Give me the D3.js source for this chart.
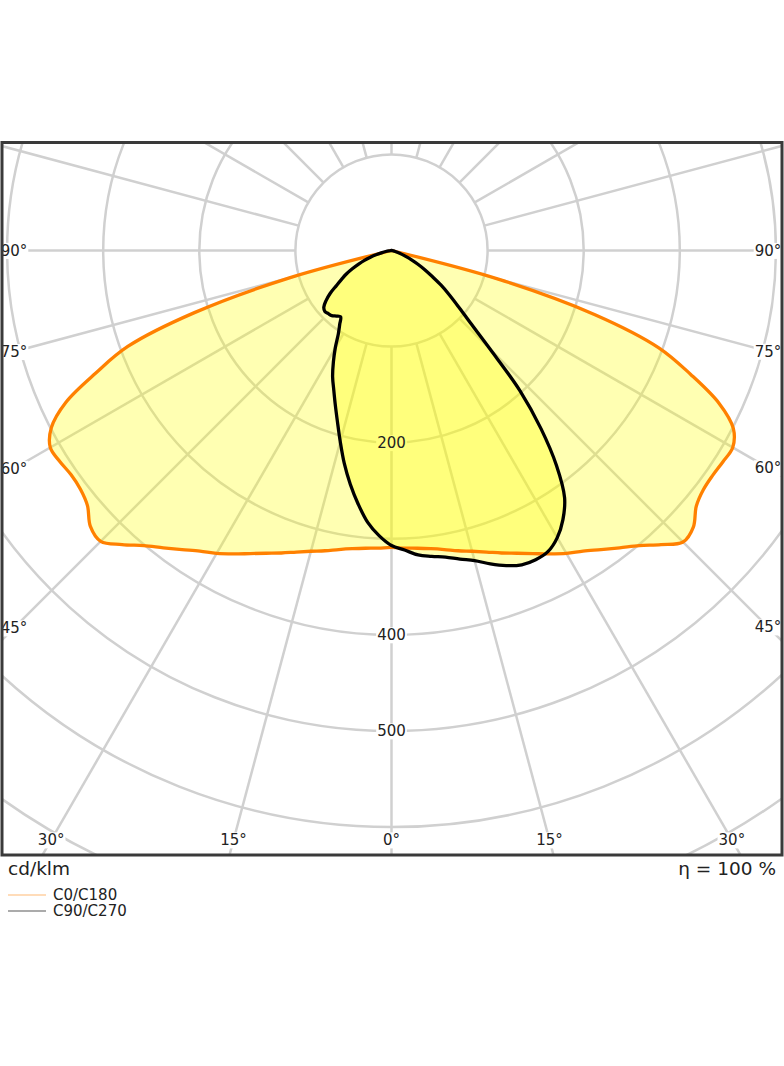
<!DOCTYPE html>
<html>
<head>
<meta charset="utf-8">
<script src="https://cdn.jsdelivr.net/npm/d3@7"></script>
<style>
  body { margin: 0; background: #fff; }
  svg { display: block; font-family: "DejaVu Sans", sans-serif; }
</style>
</head>
<body>
<div id="chart"></div>
<script>

// ---- DATA ----
// gamma angles (0 = straight down, 90 = horizontal), cd/klm
let gammas = [0, 2.5, 5, 7.5, 10, 12.5, 15, 17.5, 20, 22.5, 25, 27.5, 30, 32.5, 35, 37.5, 40, 42.5,
              45, 47.5, 50, 52.5, 55, 57.5, 60, 62.5, 65, 67.5, 70, 72.5, 75, 77.5, 80, 82.5, 85, 87.5, 90];

let c0 = [309, 310, 311, 313, 316, 320, 324, 329, 335, 341, 348, 356, 364, 371, 380, 390, 401, 415,
          429, 426, 414, 409, 408, 409, 410, 401, 376, 337, 296, 222, 115, 0, 0, 0, 0, 0, 0];

let c180 = [309, 310, 311, 313, 316, 320, 324, 329, 335, 341, 348, 356, 364, 371, 380, 390, 401, 415,
            428, 425, 413, 408, 407, 409, 410, 399, 374, 333, 292, 215, 110, 0, 0, 0, 0, 0, 0];

let c90 = [307, 312, 318, 321, 324, 329, 334, 342, 349, 354, 355, 353, 345, 332, 314, 282, 242, 198,
           145, 111, 91, 76, 63, 50, 40, 31, 23, 16, 11, 7, 4, 2, 1, 0, 0, 0, 0];

let c270 = [307, 297, 284, 266, 247, 227, 206, 187, 171, 157, 145, 131, 117, 103, 94, 87, 89, 92,
            93, 94, 92, 86, 78, 68, 60, 53, 45, 37, 30, 23, 16, 10, 6, 3, 1, 0, 0];

let ringValues = [100, 200, 300, 400, 500, 600, 700, 800];
let ringLabels = [200, 400, 500];
let spokeAngles = d3.range(0, 360, 15);
let angleLabels = [0, 15, 30, 45, 60, 75, 90];

let unitLabel = "cd/klm";
let etaLabel = "η = 100 %";
let legendNames = ["C0/C180", "C90/C270"];
let legendColors = ["#ff8000", "#222222"];

// ---- CHART AREA ----
let W = 784, H = 1066;
let frame = {left: 2, top: 143, right: 782, bottom: 855};
let cx = 391.5, cy = 250.5;

let svg = d3.select("#chart").append("svg")
    .attr("width", W)
    .attr("height", H);

svg.append("defs").append("clipPath")
    .attr("id", "frameClip")
    .append("rect")
    .attr("x", frame.left)
    .attr("y", frame.top)
    .attr("width", frame.right - frame.left)
    .attr("height", frame.bottom - frame.top);

let r = d3.scaleLinear().domain([0, 100]).range([0, 96.1]);

let plot = svg.append("g")
    .attr("clip-path", "url(#frameClip)");

let g = plot.append("g")
    .attr("transform", "translate(" + cx + "," + cy + ")");

// ---- GRID ----
g.selectAll(".ring")
    .data(ringValues)
    .enter()
    .append("circle")
    .attr("class", "ring")
    .attr("r", d => r(d))
    .attr("fill", "none")
    .attr("stroke", "#d0d0d0")
    .attr("stroke-width", 2.5);

g.selectAll(".spoke")
    .data(spokeAngles)
    .enter()
    .append("line")
    .attr("class", "spoke")
    .attr("x1", d => r(100) * Math.sin(d * Math.PI / 180))
    .attr("y1", d => r(100) * Math.cos(d * Math.PI / 180))
    .attr("x2", d => r(1000) * Math.sin(d * Math.PI / 180))
    .attr("y2", d => r(1000) * Math.cos(d * Math.PI / 180))
    .attr("stroke", "#d0d0d0")
    .attr("stroke-width", 2.5);

// ---- LABEL POSITIONS ----
let inset = {left: 14, right: 768, bottom: 840};
let labels = [];
angleLabels.forEach(a => {
    let rad = a * Math.PI / 180;
    [-1, 1].forEach(side => {
        if (a === 0 && side === 1) return;
        let tSide = Math.sin(rad) > 0 ? (side < 0 ? cx - inset.left : inset.right - cx) / Math.sin(rad) : Infinity;
        let tBottom = (inset.bottom - cy) / Math.cos(rad);
        let t = Math.min(tSide, tBottom);
        labels.push({text: a + "°", x: cx + side * t * Math.sin(rad), y: cy + t * Math.cos(rad)});
    });
});
ringLabels.forEach(v => {
    labels.push({text: String(v), x: cx, y: cy + r(v)});
});

let labelSize = 15;
// label backgrounds sit under the fills, the texts on top of everything
let bgLayer = plot.append("g");
let fillLayer = plot.append("g").attr("transform", "translate(" + cx + "," + cy + ")");
let textLayer = svg.append("g");

let texts = textLayer.selectAll("text")
    .data(labels)
    .enter()
    .append("text")
    .attr("x", d => d.x)
    .attr("y", d => d.y)
    .attr("text-anchor", "middle")
    .attr("dy", "0.36em")
    .attr("font-size", labelSize)
    .attr("fill", "#222")
    .text(d => d.text);

texts.each(function(d) {
    let b = this.getBBox();
    bgLayer.append("rect")
        .attr("x", b.x - 1)
        .attr("y", b.y + 1)
        .attr("width", b.width + 2)
        .attr("height", b.height - 2)
        .attr("fill", "#fff");
});

// ---- CURVES ----
function buildPoints(rightVals, leftVals) {
    let pts = [];
    for (let i = gammas.length - 1; i >= 0; i--) {
        pts.push([Math.PI - gammas[i] * Math.PI / 180, r(rightVals[i])]);
    }
    for (let i = 1; i < gammas.length; i++) {
        pts.push([Math.PI + gammas[i] * Math.PI / 180, r(leftVals[i])]);
    }
    return pts;
}

let radial = d3.lineRadial()
    .angle(d => d[0])
    .radius(d => d[1])
    .curve(d3.curveCatmullRom.alpha(0.5));

let series = [
    {pts: buildPoints(c0, c180), stroke: "#ff8000"},
    {pts: buildPoints(c90, c270), stroke: "#000"}
];

series.forEach(s => {
    fillLayer.append("path")
        .attr("d", radial(s.pts) + "Z")
        .attr("fill", "rgba(255,255,0,0.3)")
        .attr("stroke", "none");
});

series.forEach(s => {
    fillLayer.append("path")
        .attr("d", radial(s.pts) + "Z")
        .attr("fill", "none")
        .attr("stroke", s.stroke)
        .attr("stroke-width", 3.3)
        .attr("stroke-linejoin", "round");
});

// ---- FRAME ----
svg.append("rect")
    .attr("x", frame.left)
    .attr("y", frame.top - 0.5)
    .attr("width", frame.right - frame.left)
    .attr("height", frame.bottom - frame.top + 0.5)
    .attr("fill", "none")
    .attr("stroke", "#3a3a3a")
    .attr("stroke-width", 3);

// ---- FOOTER TEXT ----
svg.append("text")
    .attr("x", 8)
    .attr("y", 875)
    .attr("font-size", 18.5)
    .attr("fill", "#222")
    .text(unitLabel);

svg.append("text")
    .attr("x", 776)
    .attr("y", 875)
    .attr("text-anchor", "end")
    .attr("font-size", 18.5)
    .attr("fill", "#222")
    .text(etaLabel);

// ---- LEGEND ----
let legend = svg.selectAll(".legend")
    .data(legendNames)
    .enter()
    .append("g")
    .attr("class", "legend")
    .attr("transform", (d, i) => "translate(8," + (895 + i * 16) + ")");

legend.append("line")
    .attr("x1", 0)
    .attr("x2", 38)
    .attr("stroke", (d, i) => legendColors[i])
    .attr("stroke-opacity", (d, i) => i === 0 ? 0.55 : 0.75)
    .attr("stroke-width", 1.2);

legend.append("text")
    .attr("x", 45)
    .attr("dy", "0.36em")
    .attr("font-size", 15)
    .attr("fill", "#222")
    .text(d => d);

</script>
</body>
</html>
